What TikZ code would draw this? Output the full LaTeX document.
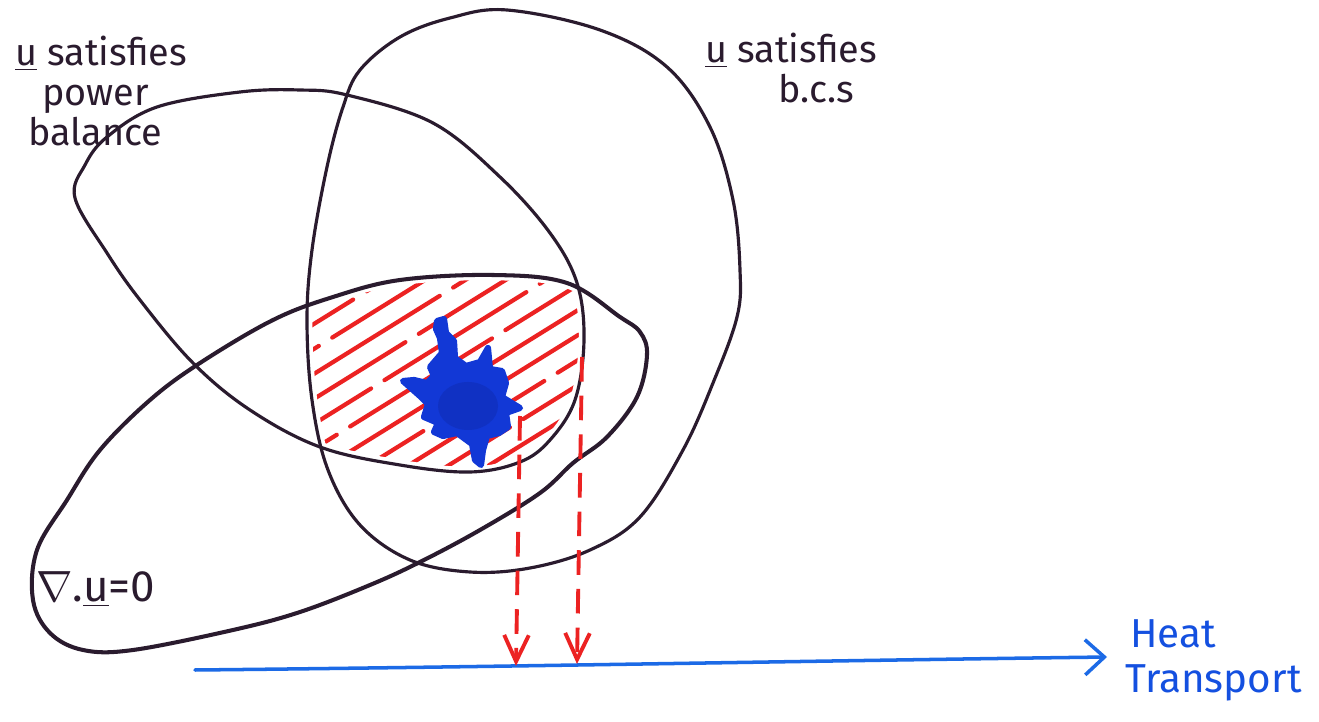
\documentclass[tikz,border=0pt]{standalone}
\usepackage{fontspec}
\setmainfont{Fira Sans}
\usetikzlibrary{arrows.meta}
\definecolor{ink}{HTML}{2A1B2E}
\definecolor{hred}{HTML}{EC2222}
\definecolor{lineblue}{HTML}{1C6AE6}
\definecolor{textblue}{HTML}{1450E0}
\definecolor{blobblue}{HTML}{1238D6}
\definecolor{blobdark}{HTML}{0A1A80}
\def\shapeA{plot[smooth cycle, tension=0.6] coordinates {(75,198) (85,165) (107,137) (157,107) (240,92) (300,90) (347,95) (433,123) (500,177) (550,233) (577,283) (584,340) (575,400) (550,440) (520,462) (470,472) (400,465) (320,447) (250,410) (193,363) (140,300) (107,253)}}
\def\shapeB{plot[smooth cycle, tension=0.6] coordinates {(507,10) (600,30) (667,67) (710,127) (733,200) (740,270) (737,317) (713,383) (683,450) (640,517) (590,550) (530,568) (470,572) (410,560) (360,525) (328,470) (312,400) (307,320) (312,250) (327,167) (343,107) (360,70) (400,37) (450,18)}}
\def\shapeC{plot[smooth cycle, tension=0.6] coordinates {(647,355) (637,397) (607,437) (573,463) (540,493) (480,530) (420,562) (370,585) (300,612) (233,630) (133,650) (83,650) (50,633) (33,600) (37,550) (67,500) (100,450) (150,400) (200,363) (273,320) (333,297) (400,280) (493,275) (567,283) (620,317) (640,332)}}
\begin{document}
\begin{tikzpicture}[x=0.02cm,y=-0.02cm,
  outline/.style={draw=ink, line width=1.8pt, line join=round},
  thickoutline/.style={draw=ink, line width=2.3pt, line join=round},
  hatchline/.style={draw=hred, line width=2.4pt, line cap=round, dash pattern=on 95pt off 9pt},
  gapstroke/.style={draw=white, line width=6pt},
  blobstyle/.style={fill=blobblue, draw=blobblue, line width=3.5pt, line join=round},
  proj/.style={draw=hred, line width=2.2pt, dash pattern=on 14pt off 8pt, -{Straight Barb[length=15pt,width=14pt,line width=2.2pt]}},
  axis/.style={draw=lineblue, line width=2pt, line cap=round, -{Straight Barb[length=11pt,width=20pt,line width=2pt]}},
  lbl/.style={text=ink, inner sep=0pt, anchor=base west, font=\fontsize{21.5}{25}\selectfont},
  bluelbl/.style={text=textblue, inner sep=0pt, anchor=base west, font=\fontsize{23}{27}\selectfont}
]
\useasboundingbox (0,0) rectangle (1319,722);
\fill[white] (0,0) rectangle (1319,722);
% hatching of the common region
\begin{scope}
  \clip \shapeA;
  \clip \shapeB;
  \clip \shapeC;
  \foreach \i in {0,...,17}{
    \draw[hatchline, dash phase=\i*23pt] (280,{295+\i*25}) -- ++(340,-211);
  }
\end{scope}
\path[gapstroke] \shapeA;
\path[gapstroke] \shapeB;
\path[gapstroke] \shapeC;
% outlines
\draw[outline] \shapeA;
\draw[outline] \shapeB;
\draw[thickoutline] \shapeC;
% blob
\path[blobstyle] (437,321) -- (444,319) -- (446,333) -- (454,341) -- (455,358) -- (466,366) -- (480,362) -- (488,348) -- (490,369) -- (502,371) -- (506,383) -- (502,397) -- (520,408) -- (506,413) -- (508,427) -- (499,433) -- (487,436) -- (483,450) -- (481,465) -- (475,460) -- (472,444) -- (457,433) -- (443,436) -- (434,432) -- (438,423) -- (424,417) -- (428,404) -- (421,397) -- (403,381) -- (414,380) -- (427,383) -- (434,376) -- (430,367) -- (442,353) -- (440,338) -- (436,329) -- cycle;
\fill[blobdark, opacity=0.22] (468,406) ellipse (30 and 24);
% heat transport axis
\coordinate (hs) at (195,670);
\coordinate (he) at (1107,657);
\draw[axis] (hs) .. controls (500,667) and (800,661) .. (he);
% projections
\coordinate (p1s) at (520,416);
\coordinate (p1e) at (516,666);
\coordinate (p2s) at (582,357);
\coordinate (p2e) at (577,664);
\draw[proj] (p1s) -- (p1e);
\draw[proj] (p2s) -- (p2e);
% labels
\node[lbl] (pb1) at (15,66) {\underline{u} satisfies};
\node[lbl] (pb2) at (42,106) {power};
\node[lbl] (pb3) at (28,146) {balance};
\node[lbl] (bc1) at (705,63) {\underline{u} satisfies};
\node[lbl] (bc2) at (778,103) {b.c.s};
\node[lbl, font=\fontsize{25}{29}\selectfont] (div) at (36,602) {$\nabla$.\underline{u}=0};
\node[bluelbl] (ht1) at (1130,648) {Heat};
\node[bluelbl] (ht2) at (1125,692) {Transport};
\end{tikzpicture}
\end{document}
